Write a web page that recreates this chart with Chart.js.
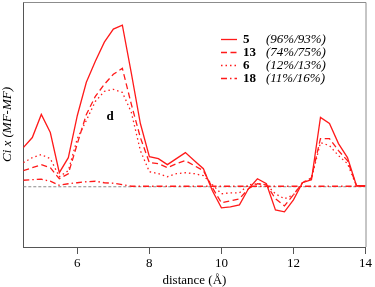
<!DOCTYPE html>
<html>
<head>
<meta charset="utf-8">
<script src="https://cdn.jsdelivr.net/npm/chart.js@4"></script>
<style>
  html, body { margin: 0; padding: 0; background: #fff; }
  #wrap { width: 375px; height: 287px; position: relative; }
</style>
</head>
<body>
<div id="wrap"><canvas id="distChart"></canvas></div>
<script>
// distances (Å)
const distances = [4.5, 4.75, 5, 5.25, 5.5, 5.75, 6, 6.25, 6.5, 6.75, 7, 7.25, 7.5, 7.75,
  8, 8.25, 8.5, 8.75, 9, 9.25, 9.5, 9.75, 10, 10.25, 10.5, 10.75, 11, 11.25,
  11.5, 11.75, 12, 12.25, 12.5, 12.75, 13, 13.25, 13.5, 13.75, 14];

const series5 = [0.39, 0.49, 0.72, 0.54, 0.14, 0.29, 0.71, 1.04, 1.25, 1.44, 1.57, 1.61, 1.13,
  0.63, 0.30, 0.28, 0.22, 0.28, 0.34, 0.26, 0.18, -0.04, -0.21, -0.20, -0.18, -0.02, 0.08,
  0.03, -0.23, -0.25, -0.13, 0.04, 0.07, 0.69, 0.63, 0.43, 0.29, 0.01, 0.01];
const series13 = [0.16, 0.19, 0.22, 0.19, 0.08, 0.13, 0.43, 0.72, 0.90, 1.02, 1.12, 1.18, 0.82,
  0.49, 0.24, 0.23, 0.19, 0.23, 0.26, 0.21, 0.16, -0.01, -0.16, -0.14, -0.12, -0.02, 0.03,
  0.02, -0.12, -0.19, -0.08, 0.04, 0.09, 0.48, 0.48, 0.36, 0.26, 0.01, 0.01];
const series6 = [0.24, 0.29, 0.32, 0.28, 0.10, 0.16, 0.48, 0.66, 0.85, 0.95, 0.97, 0.94, 0.74,
  0.36, 0.15, 0.13, 0.10, 0.13, 0.14, 0.13, 0.11, 0.02, -0.07, -0.06, -0.06, 0.02, 0.03,
  0.02, -0.07, -0.12, -0.08, 0.04, 0.08, 0.44, 0.41, 0.31, 0.23, 0.01, 0.01];
const series18 = [0.065, 0.07, 0.075, 0.055, 0.015, 0.03, 0.04, 0.05, 0.055, 0.04, 0.035, 0.02,
  0.005, 0.005, 0.005, 0.005, 0.005, 0.005, 0.005, 0.005, 0.005, 0.005, 0.005, 0.005, 0.005,
  0.005, 0.005, 0.005, 0.005, 0.005, 0.005, 0.005, 0.005, 0.005, 0.005, 0.005, 0.005, 0.005, 0.005];
const baseline = [0, 0];
const baselineX = [4.5, 14];

const xTicks = [6, 8, 10, 12, 14];
const legendNames = ['5', '13', '6', '18'];
const legendPct = ['(96%/93%)', '(74%/75%)', '(12%/13%)', '(11%/16%)'];
const panelLabel = 'd';

const RED = '#ff1a1a';
const dashes = [[], [6, 3.5], [1.5, 3], [6, 3, 1.5, 3]];
const serif = "'Liberation Serif', 'DejaVu Serif', serif";

function pts(xs, ys) {
  return ys.map((v, i) => ({ x: xs[i], y: v }));
}

const allSeries = [series5, series13, series6, series18];

const datasets = [{
  data: pts(baselineX, baseline),
  borderColor: '#8a8a8a',
  borderWidth: 1,
  borderDash: [3, 2],
  pointRadius: 0,
  order: 10
}];
allSeries.forEach((s, i) => {
  datasets.push({
    label: legendNames[i],
    data: pts(distances, s),
    borderColor: RED,
    borderWidth: 1.3,
    borderDash: dashes[i],
    pointRadius: 0,
    tension: 0
  });
});

// frame on top/right, legend and panel letter
const extras = {
  id: 'extras',
  afterDraw(chart) {
    const ctx = chart.ctx;
    const a = chart.chartArea;
    ctx.save();
    ctx.strokeStyle = '#8c8c8c';
    ctx.lineWidth = 1;
    ctx.beginPath();
    ctx.moveTo(a.left, a.top + 0.5);
    ctx.lineTo(a.right + 0.5, a.top + 0.5);
    ctx.lineTo(a.right + 0.5, a.bottom);
    ctx.stroke();

    // legend
    const rowY = [39.5, 52.5, 65.5, 78.5];
    ctx.textBaseline = 'middle';
    legendNames.forEach((n, i) => {
      ctx.strokeStyle = RED;
      ctx.lineWidth = 1.3;
      ctx.setLineDash(dashes[i]);
      ctx.beginPath();
      ctx.moveTo(221, rowY[i]);
      ctx.lineTo(237, rowY[i]);
      ctx.stroke();
      ctx.setLineDash([]);
      ctx.fillStyle = '#000';
      ctx.font = 'bold 13px ' + serif;
      ctx.textAlign = 'left';
      ctx.fillText(n, 243, rowY[i] + 0.5);
      ctx.font = 'italic 13px ' + serif;
      ctx.fillText(legendPct[i], 266, rowY[i] + 0.5);
    });

    ctx.font = 'bold 13px ' + serif;
    ctx.textAlign = 'center';
    ctx.fillText(panelLabel, 110, 117);
    ctx.restore();
  }
};

new Chart(document.getElementById('distChart'), {
  type: 'line',
  data: { datasets: datasets },
  options: {
    responsive: true,
    maintainAspectRatio: false,
    animation: false,
    layout: { padding: { top: 2, right: 9, bottom: 0, left: 0 } },
    scales: {
      x: {
        type: 'linear',
        min: 4.5,
        max: 14,
        afterBuildTicks: (axis) => { axis.ticks = xTicks.map(v => ({ value: v })); },
        grid: { drawOnChartArea: false, tickLength: 7, color: '#555' },
        border: { color: '#555', width: 1 },
        ticks: {
          color: '#000',
          padding: 3,
          maxRotation: 0,
          font: { family: serif, size: 13, lineHeight: 1.0 }
        },
        title: {
          display: true,
          text: 'distance (Å)',
          color: '#000',
          padding: { top: 1, bottom: 0 },
          font: { family: serif, size: 13, lineHeight: 1.0 }
        }
      },
      y: {
        min: -0.6,
        max: 1.84,
        grid: { display: false },
        border: { color: '#555', width: 1 },
        ticks: { display: false },
        title: {
          display: true,
          text: 'Ci x (MF-MF)',
          color: '#000',
          padding: { top: 0, bottom: 1 },
          font: { family: serif, size: 13, style: 'italic', lineHeight: 1.1 }
        }
      }
    },
    plugins: {
      legend: { display: false },
      tooltip: { enabled: false }
    }
  },
  plugins: [extras]
});
</script>
</body>
</html>
